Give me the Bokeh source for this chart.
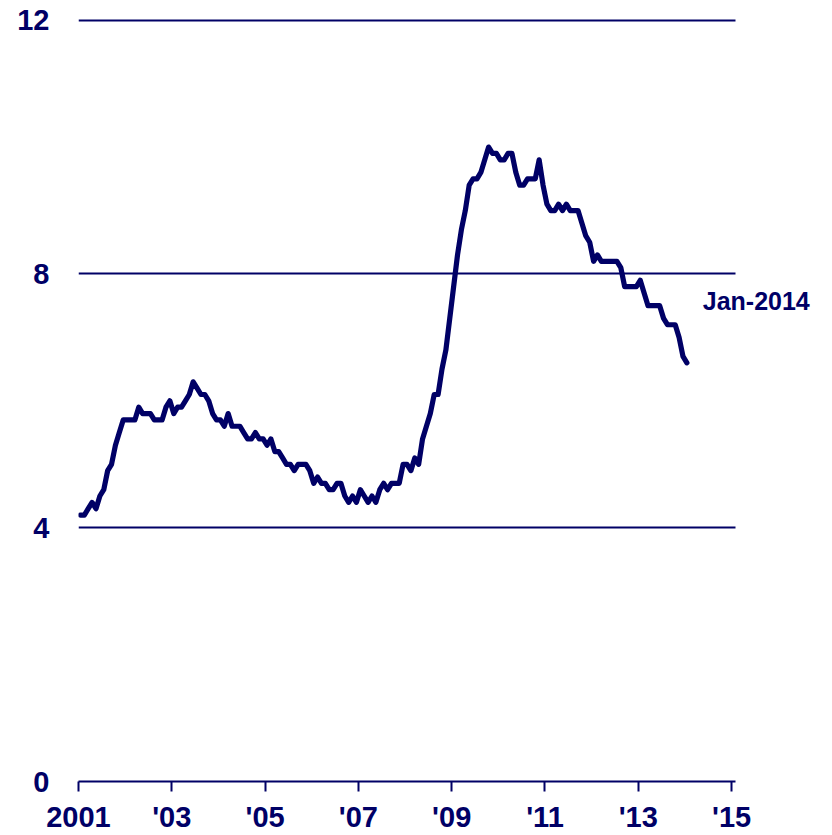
from bokeh.plotting import figure
from bokeh.models import FixedTicker, Range1d, Label
from bokeh.embed import file_html
from bokeh.resources import INLINE

# Monthly unemployment rate, Jan-2001 .. Jan-2014 (plotted at mid-month)
start_year = 2001
rates = [
    4.2, 4.2, 4.3, 4.4, 4.3, 4.5, 4.6, 4.9, 5.0, 5.3, 5.5, 5.7,   # 2001
    5.7, 5.7, 5.7, 5.9, 5.8, 5.8, 5.8, 5.7, 5.7, 5.7, 5.9, 6.0,   # 2002
    5.8, 5.9, 5.9, 6.0, 6.1, 6.3, 6.2, 6.1, 6.1, 6.0, 5.8, 5.7,   # 2003
    5.7, 5.6, 5.8, 5.6, 5.6, 5.6, 5.5, 5.4, 5.4, 5.5, 5.4, 5.4,   # 2004
    5.3, 5.4, 5.2, 5.2, 5.1, 5.0, 5.0, 4.9, 5.0, 5.0, 5.0, 4.9,   # 2005
    4.7, 4.8, 4.7, 4.7, 4.6, 4.6, 4.7, 4.7, 4.5, 4.4, 4.5, 4.4,   # 2006
    4.6, 4.5, 4.4, 4.5, 4.4, 4.6, 4.7, 4.6, 4.7, 4.7, 4.7, 5.0,   # 2007
    5.0, 4.9, 5.1, 5.0, 5.4, 5.6, 5.8, 6.1, 6.1, 6.5, 6.8, 7.3,   # 2008
    7.8, 8.3, 8.7, 9.0, 9.4, 9.5, 9.5, 9.6, 9.8, 10.0, 9.9, 9.9,  # 2009
    9.8, 9.8, 9.9, 9.9, 9.6, 9.4, 9.4, 9.5, 9.5, 9.5, 9.8, 9.4,   # 2010
    9.1, 9.0, 9.0, 9.1, 9.0, 9.1, 9.0, 9.0, 9.0, 8.8, 8.6, 8.5,   # 2011
    8.2, 8.3, 8.2, 8.2, 8.2, 8.2, 8.2, 8.1, 7.8, 7.8, 7.8, 7.8,   # 2012
    7.9, 7.7, 7.5, 7.5, 7.5, 7.5, 7.3, 7.2, 7.2, 7.2, 7.0, 6.7,   # 2013
    6.6,                                                          # 2014
]
dates = [start_year + (i + 0.5) / 12.0 for i in range(len(rates))]

x_ticks = [2001, 2003, 2005, 2007, 2009, 2011, 2013, 2015]
x_tick_labels = ["2001", "'03", "'05", "'07", "'09", "'11", "'13", "'15"]
y_ticks = [0, 4, 8, 12]
grid_ticks = [4, 8, 12]
end_label = "Jan-2014"

NAVY = "#000066"
FONT = "Liberation Sans"

X_AXIS_END = 2015.086   # where the axis line / grid lines stop
X_VIEW_END = 2016.82    # extra room on the right for the end label

p = figure(width=816, height=835, output_backend="svg", toolbar_location=None,
           x_range=Range1d(2001, X_VIEW_END), y_range=Range1d(0, 12.09),
           min_border_left=78, min_border_right=0, min_border_top=14,
           min_border_bottom=54)
p.outline_line_color = None
p.background_fill_color = "white"
p.border_fill_color = "white"

p.line(dates, rates, line_color=NAVY, line_width=5.2, line_join="round", line_cap="round")

# x axis
xa = p.xaxis[0]
xa.bounds = (2001, X_AXIS_END)
xa.ticker = FixedTicker(ticks=x_ticks)
xa.major_label_overrides = {t: l for t, l in zip(x_ticks, x_tick_labels)}
xa.axis_line_color = NAVY
xa.axis_line_width = 2
xa.major_tick_line_color = NAVY
xa.major_tick_line_width = 2
xa.major_tick_out = 10
xa.major_tick_in = 0
xa.minor_tick_line_color = None
xa.major_label_standoff = 9
xa.major_label_text_font = FONT
xa.major_label_text_font_style = "bold"
xa.major_label_text_font_size = "29px"
xa.major_label_text_color = NAVY

# y axis
ya = p.yaxis[0]
ya.ticker = FixedTicker(ticks=y_ticks)
ya.axis_line_color = None
ya.major_tick_line_color = None
ya.minor_tick_line_color = None
ya.major_tick_out = 0
ya.major_tick_in = 0
ya.major_label_standoff = 29
ya.major_label_text_font = FONT
ya.major_label_text_font_style = "bold"
ya.major_label_text_font_size = "29px"
ya.major_label_text_color = NAVY

p.xgrid.grid_line_color = None
p.ygrid.ticker = FixedTicker(ticks=grid_ticks)
p.ygrid.cross_bounds = (2001, X_AXIS_END)
p.ygrid.grid_line_color = NAVY
p.ygrid.grid_line_width = 1.8
p.ygrid.level = "underlay"

lab = Label(x=dates[-1] + 0.34, y=rates[-1] + 0.97, text=end_label,
            text_font=FONT, text_font_style="bold", text_font_size="25px",
            text_color=NAVY, text_align="left", text_baseline="middle")
p.add_layout(lab)

open("out.html", "w").write(file_html(p, INLINE))
